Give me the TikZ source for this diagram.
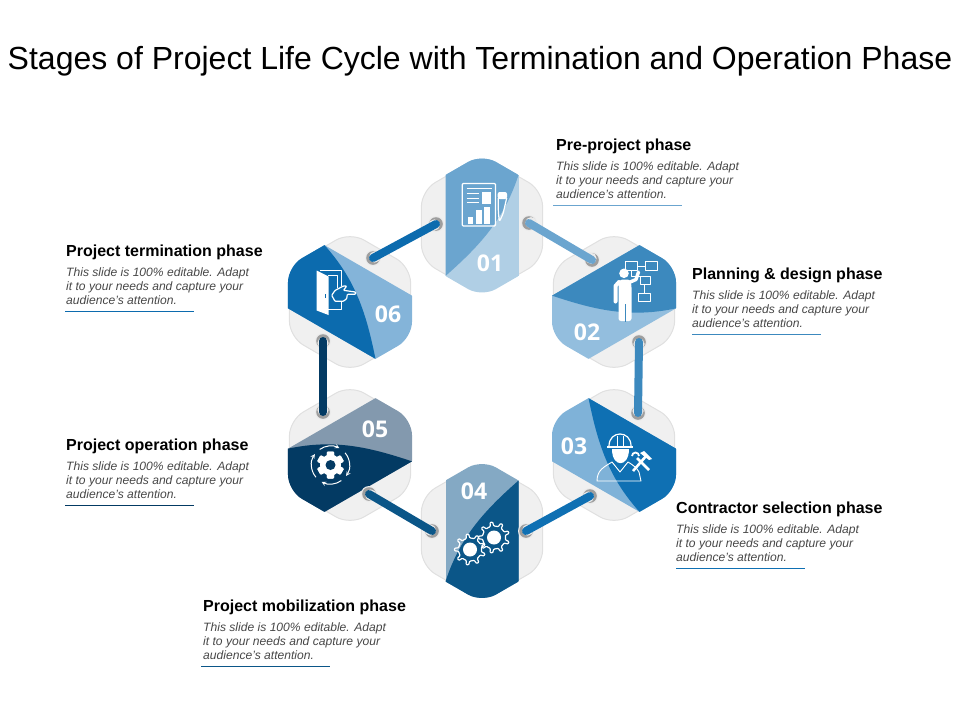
\documentclass[tikz,border=0pt]{standalone}
\usepackage{fontspec}
\setmainfont{Liberation Sans}
\newfontfamily\numfont{Open Sans}
\usetikzlibrary{calc}
\definecolor{darkA}{HTML}{6BA5CF}\definecolor{lightA}{HTML}{B0CFE5}
\definecolor{darkB}{HTML}{3C89BE}\definecolor{lightB}{HTML}{93BEDE}
\definecolor{darkC}{HTML}{0F70B3}\definecolor{lightC}{HTML}{7FB2D8}
\definecolor{darkD}{HTML}{0B5688}\definecolor{lightD}{HTML}{84A9C4}
\definecolor{darkE}{HTML}{033A63}\definecolor{lightE}{HTML}{8399AE}
\definecolor{darkF}{HTML}{0C6BAE}\definecolor{lightF}{HTML}{84B4D9}
\tikzset{
	plate/.style={fill=black!6, draw=black!12, line width=1pt},
	hub/.style={circle, fill=black!8, minimum size=16pt, inner sep=0pt},
	link/.style={line width=8pt, line cap=round},
	head/.style={anchor=west, inner sep=0pt, font=\fontsize{16}{19}\selectfont\bfseries},
	blurb/.style={anchor=north west, inner sep=0pt, align=left, text=black!72, font=\fontsize{12.1}{14}\selectfont\itshape},
	num/.style={text=white, font=\fontsize{23}{26}\selectfont\numfont\bfseries},
	ico/.style={draw=white, line width=1.2pt, line join=round},
	icothin/.style={draw=white, line width=0.8pt, line join=round},
	icof/.style={fill=white}
}
% hexagon path, corners rounded
\def\hexpath#1{[rounded corners=16pt] (0,-#1) -- ({0.866*#1},{-0.5*#1}) -- ({0.866*#1},{0.5*#1}) -- (0,#1) -- ({-0.866*#1},{0.5*#1}) -- ({-0.866*#1},{-0.5*#1}) -- cycle}
% centre x, centre y, turn, dark, light
\def\hexcell(#1,#2)(#3)(#4,#5){
	\draw[plate, shift={(#1,#2)}] \hexpath{70};
	\begin{scope}[shift={(#1,#2)}, rotate=#3]
		\clip \hexpath{71.6};
		\fill[#5] (-36.5,-90) rectangle (36.5,90);
		\fill[#4] (-36.5,-90) -- (36.5,-90) -- (36.5,-50.5) .. controls (22,-6) and (-2,20) .. (-36.5,50.5) -- cycle;
	\end{scope}
}
% hub with its grey crescent
\def\hubdot(#1)(#2,#3)(#4){
	\node[hub] (#1) at (#2,#3) {};
	\fill[black!38] (#1.center) circle (6.8);
	\fill[black!8] ($(#1.center)+(#4:2)$) circle (5.6);
}
\def\phaselabel#1(#2,#3)(#4,#5)#6{
	\node[head] (#1head) at (#2,#3+1.5) {#6};
	\node[blurb] (#1text) at (#2,#3+17) {This slide is 100\% editable. Adapt\\it to your needs and capture your\\audience's attention.};
	\coordinate (#1a) at (#4,#3+60.5);
	\coordinate (#1b) at (#4+129,#3+60.5);
	\draw[#5, line width=1pt] (#1a) -- (#1b);
}
\def\gearline(#1,#2)(#3,#4)(#5){
	\draw[ico, rounded corners=0.8pt] ($(#1,#2)+(0:#3)$)
	\foreach \a in {1,...,#5} {
		-- ($(#1,#2)+({(\a-0.72)*360/#5}:#3)$) -- ($(#1,#2)+({(\a-0.62)*360/#5}:#4)$)
		-- ($(#1,#2)+({(\a-0.38)*360/#5}:#4)$) -- ($(#1,#2)+({(\a-0.28)*360/#5}:#3)$)
		-- ($(#1,#2)+({\a*360/#5}:#3)$)
	} -- cycle;
}
\def\ringarc(#1:#2){\draw[white, line width=1pt, -stealth] ($(330.5,465)+(#1:19)$) arc (#1:#2:19);}

\begin{document}
\begin{tikzpicture}[x=1pt, y=-1pt]
	%%%%% START %%%%%
	\useasboundingbox (0,0) rectangle (960,720);
	
	\node[font=\fontsize{32}{38}\selectfont] (title) at (480,61) {Stages of Project Life Cycle with Termination and Operation Phase};
	
	\hexcell(482,225.5)(0)(darkA,lightA)
	\hexcell(614,302)(-60)(darkB,lightB)
	\hexcell(614,455)(-120)(darkC,lightC)
	\hexcell(482,531)(-180)(darkD,lightD)
	\hexcell(350,455)(-240)(darkE,lightE)
	\hexcell(350,302)(-300)(darkF,lightF)
	
	\hubdot(oneL)(436,224)(150)
	\hubdot(oneR)(529,223)(350)
	\hubdot(twoT)(592,260)(240)
	\hubdot(twoB)(639,342)(90)
	\hubdot(threeT)(638,413)(270)
	\hubdot(threeB)(590,496)(150)
	\hubdot(fourR)(526,531)(330)
	\hubdot(fourL)(432,531)(210)
	\hubdot(fiveB)(369,494)(30)
	\hubdot(fiveT)(323,412)(270)
	\hubdot(sixB)(323,341)(90)
	\hubdot(sixT)(373,258)(330)
	
	\draw[link, darkA] (oneR.center) -- (twoT.center);
	\draw[link, darkB] (twoB.center) -- (threeT.center);
	\draw[link, darkC] (threeB.center) -- (fourR.center);
	\draw[link, darkD] (fourL.center) -- (fiveB.center);
	\draw[link, darkE] (fiveT.center) -- (sixB.center);
	\draw[link, darkF] (sixT.center) -- (oneL.center);
	
	\node[num] (n1) at (490,263) {01};
	\node[num] (n2) at (587,332) {02};
	\node[num] (n3) at (574,446) {03};
	\node[num] (n4) at (474,491) {04};
	\node[num] (n5) at (375,429) {05};
	\node[num] (n6) at (388,314) {06};
	
	% document and pen
	\draw[ico, rounded corners=1pt] (462.3,183.5) rectangle (495.5,226);
	\draw[icothin] (466.5,188) -- (491.5,188);
	\draw[icothin] (466.5,193.5) -- (479,193.5);
	\draw[icothin] (466.5,198) -- (479,198);
	\draw[icothin] (466.5,202.5) -- (479,202.5);
	\fill[icof] (481.7,192.3) rectangle (491,204.3);
	\fill[icof] (467.7,216.7) rectangle (473.3,224);
	\fill[icof] (476,210) rectangle (481.7,224);
	\fill[icof] (484.3,207.3) rectangle (490,224);
	\draw[ico, rounded corners=1.5pt] (498.3,198) -- (498.3,211) -- (499.3,221.7) -- (503,214) -- (506.7,198);
	\fill[icof, rounded corners=2pt] (497.7,199) -- (497.7,192) -- (507,192) -- (507,199) -- cycle;
	
	% person at a flow chart
	\fill[icof] (624,273.3) circle (4.8);
	\fill[icof, rounded corners=2.5pt] (618.5,285) -- (620,279.5) -- (630,279.5) -- (631.5,285) -- (631.5,321) -- (618.5,321) -- cycle;
	\draw[white, line width=4pt, line cap=round, line join=round] (619,282) -- (615.5,286) -- (615.5,301.5);
	\draw[white, line width=3.4pt, line cap=round, line join=round] (629,282.5) -- (636,279.5) -- (638.5,272);
	\draw[darkB, line width=1pt] (625,304) -- (625,322);
	\draw[icothin] (625,261.5) rectangle (637,270);
	\draw[icothin] (645,261.5) rectangle (657,270);
	\draw[icothin] (640,276) rectangle (650,284);
	\draw[icothin] (638,293) rectangle (650,301);
	\draw[icothin] (637,266) -- (645,266);
	\draw[icothin] (644,284) -- (644,293);
	\draw[icothin] (631,270) -- (631,276) -- (640,276);
	
	% worker with tools
	\draw[ico] (607,447) -- (633,447);
	\draw[ico] (609,446) .. controls (609,430) and (631,430) .. (631,446);
	\draw[icothin] (617,446) -- (617,436);
	\draw[icothin] (623,446) -- (623,436);
	\fill[icof] (611.5,449) .. controls (611.5,468) and (628.5,468) .. (628.5,449) -- cycle;
	\draw[ico, line width=0.9pt] (597,481) .. controls (597,470) and (604,467) .. (612,462) -- (620,472) -- (628,462) .. controls (633,465) and (637,468) .. (639,472) -- (641,481) -- cycle;
	\draw[white, line width=2.6pt] (633,471) -- (647,455);
	\fill[icof] (640,453) -- (644,451) -- (652,459) -- (649,460) -- (645,457) -- cycle;
	\draw[white, line width=2.6pt] (649,470) -- (637,458);
	\draw[white, line width=1.8pt] (632,456) arc (180:360:3.5);
	
	% two gears
	\gearline(470,549.5)(11.5,15.5)(9)
	\fill[icof] (470,549.5) circle (7);
	\gearline(494,537.5)(11.5,15.5)(9)
	\fill[icof] (494,537.5) circle (7);
	
	% gear with arrows round it
	\fill[icof] (330.5,465) circle (10.5);
	\foreach \a in {0,60,...,300} {
		\fill[icof, rounded corners=1pt, rotate around={\a:(330.5,465)}] (326.8,451.5) rectangle (334.2,478.5);
	}
	\fill[darkE] (330.5,465) circle (5);
	\ringarc(-125:-62)
	\ringarc(-40:35)
	\ringarc(55:118)
	\ringarc(140:215)
	
	% door and pointing hand
	\fill[icof] (316.7,270.5) -- (328.5,276.5) -- (328.5,315) -- (316.7,310.5) -- cycle;
	\fill[darkF] (324.5,294) rectangle (325.5,298);
	\draw[ico] (320,270.8) -- (341.7,270.8) -- (341.7,286);
	\draw[ico] (328,275.3) -- (337.5,275.3) -- (337.5,287.5);
	\draw[ico] (328,309.7) -- (341.7,309.7) -- (341.7,302);
	\draw[ico, rounded corners=0.8pt] (331.7,295.3) -- (335,290.5) -- (343.3,286) -- (346.7,286) -- (343.5,290.3) -- (355.5,292) -- (355.5,294.3) -- (347.3,294.3) -- (346.7,298.7) -- (343.3,301.3) -- (335,301.3) -- cycle;
	
	\phaselabel pre(556,145)(553,darkA){Pre-project phase}
	\phaselabel plan(692,274)(692,darkB){Planning \& design phase}
	\phaselabel con(676,508)(676,darkC){Contractor selection phase}
	\phaselabel mob(203,606)(201,darkD){Project mobilization phase}
	\phaselabel op(66,445)(65,darkE){Project operation phase}
	\phaselabel term(66,251)(65,darkF){Project termination phase}
	%%%%% END %%%%%
\end{tikzpicture}
\end{document}
